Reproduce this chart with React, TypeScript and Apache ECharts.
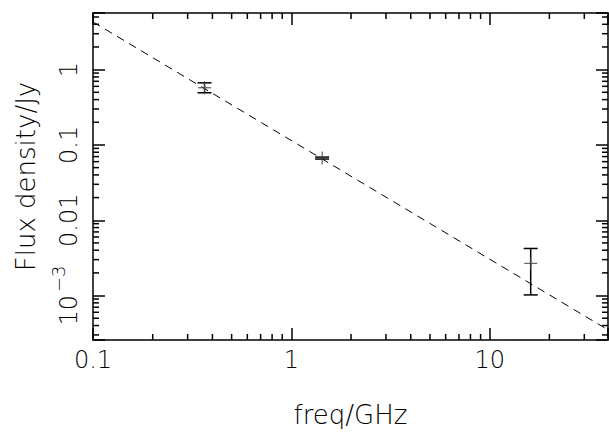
import React, { useEffect, useRef } from "react";
import * as echarts from "echarts";

// Measured points (frequency in GHz, flux density in Jy)
const freqGHz = [0.365, 1.43, 16.1];
const fluxJy = [0.574, 0.067, 0.00268];
const fluxLowJy = [0.493, 0.065, 0.00102];
const fluxHighJy = [0.668, 0.069, 0.00422];

// Power-law fit (dashed line)
const fitFreqGHz = [0.1, 39.5];
const fitFluxJy = [4.3, 3.5e-4];

// Axes
const xMin = 0.1;
const xMax = 39.5;
const yMin = 2.57e-4;
const yMax = 5.65;
const xMajorTicks = [0.1, 1, 10];
const xTickLabels = ["0.1", "1", "10"];
const yMajorTicks = [0.001, 0.01, 0.1, 1];
const yTickLabels = ["{e|10}{s|\u22123}", "0.01", "0.1", "1"];
const xMinorTicks = [0.2, 0.3, 0.4, 0.5, 0.6, 0.7, 0.8, 0.9, 2, 3, 4, 5, 6, 7, 8, 9, 20, 30];
const yMinorTicks = [
  3e-4, 4e-4, 5e-4, 6e-4, 7e-4, 8e-4, 9e-4,
  0.002, 0.003, 0.004, 0.005, 0.006, 0.007, 0.008, 0.009,
  0.02, 0.03, 0.04, 0.05, 0.06, 0.07, 0.08, 0.09,
  0.2, 0.3, 0.4, 0.5, 0.6, 0.7, 0.8, 0.9,
  2, 3, 4, 5,
];

const FONT = "DejaVu Sans";
const WEIGHT = 200;

function labelFor(v: number, ticks: number[], labels: string[]): string {
  for (let i = 0; i < ticks.length; i++) {
    if (Math.abs(Math.log10(v) - Math.log10(ticks[i])) < 1e-4) return labels[i];
  }
  return "";
}

export default function App() {
  const ref = useRef<HTMLDivElement>(null);

  useEffect(() => {
    if (!ref.current) return;
    const chart = echarts.init(ref.current, undefined, { renderer: "svg" });

    const lineStyle = { color: "#000", width: 1.5 };
    const baseAxis = {
      type: "log" as const,
      logBase: 10,
      axisLine: { show: true, lineStyle },
      axisTick: { show: true, inside: true, length: 12, lineStyle },
      splitLine: { show: false },
    };

    const option: any = {
      animation: false,
      backgroundColor: "#fff",
      textStyle: { fontFamily: FONT, color: "#000", fontWeight: WEIGHT },
      grid: { left: 93, right: 0, top: 13, bottom: 91, containLabel: false },
      xAxis: [
        {
          ...baseAxis,
          position: "bottom",
          min: xMin,
          max: xMax,
          name: "freq/GHz",
          nameLocation: "middle",
          nameGap: 62,
          nameMoveOverlap: false,
          nameTextStyle: { fontFamily: FONT, fontWeight: WEIGHT, fontSize: 26, color: "#000" },
          axisLabel: {
            show: true,
            interval: 0,
            margin: 8,
            fontFamily: FONT,
            fontWeight: WEIGHT,
            fontSize: 24,
            color: "#000",
            formatter: (v: number) => labelFor(v, xMajorTicks, xTickLabels),
          },
        },
        {
          ...baseAxis,
          position: "top",
          min: xMin,
          max: xMax,
          axisLabel: { show: false },
        },
      ],
      yAxis: [
        {
          ...baseAxis,
          position: "left",
          min: yMin,
          max: yMax,
          name: "Flux density/Jy",
          nameLocation: "middle",
          nameRotate: 90,
          nameGap: 54,
          nameMoveOverlap: false,
          nameTextStyle: { fontFamily: FONT, fontWeight: WEIGHT, fontSize: 26, color: "#000" },
          axisLabel: {
            show: true,
            interval: 0,
            rotate: 90,
            margin: 12,
            fontFamily: FONT,
            fontWeight: WEIGHT,
            fontSize: 24,
            color: "#000",
            formatter: (v: number) => labelFor(v, yMajorTicks, yTickLabels),
            rich: {
              e: { fontFamily: FONT, fontWeight: WEIGHT, fontSize: 24, color: "#000", verticalAlign: "bottom" },
              s: {
                fontFamily: FONT,
                fontWeight: WEIGHT,
                fontSize: 18,
                color: "#000",
                verticalAlign: "bottom",
                padding: [0, 0, 14, 3],
              },
            },
          },
        },
        {
          ...baseAxis,
          position: "right",
          min: yMin,
          max: yMax,
          axisLabel: { show: false },
        },
      ],
      series: [
        {
          type: "line",
          xAxisIndex: 0,
          yAxisIndex: 0,
          data: fitFreqGHz.map((f, i) => [f, fitFluxJy[i]]),
          symbol: "none",
          showSymbol: false,
          lineStyle: { color: "#000", width: 1, type: [8, 6] },
          z: 2,
          silent: true,
        },
        {
          type: "custom",
          xAxisIndex: 0,
          yAxisIndex: 0,
          encode: { x: 0, y: 1 },
          data: freqGHz.map((f, i) => [f, fluxJy[i], fluxLowJy[i], fluxHighJy[i]]),
          z: 5,
          silent: true,
          renderItem: (params: any, api: any) => {
            const x = api.value(0);
            const pC = api.coord([x, api.value(1)]);
            const pLo = api.coord([x, api.value(2)]);
            const pHi = api.coord([x, api.value(3)]);
            const hw = 7;
            const st = { stroke: "#000", lineWidth: 1.5 };
            const mk = { stroke: "#444", lineWidth: 1 };
            return {
              type: "group",
              children: [
                { type: "line", shape: { x1: pLo[0], y1: pLo[1], x2: pHi[0], y2: pHi[1] }, style: st },
                { type: "line", shape: { x1: pLo[0] - hw, y1: pLo[1], x2: pLo[0] + hw, y2: pLo[1] }, style: st },
                { type: "line", shape: { x1: pHi[0] - hw, y1: pHi[1], x2: pHi[0] + hw, y2: pHi[1] }, style: st },
                { type: "line", shape: { x1: pC[0] - 6.5, y1: pC[1], x2: pC[0] + 6.5, y2: pC[1] }, style: mk },
                { type: "line", shape: { x1: pC[0], y1: pC[1] - 6.5, x2: pC[0], y2: pC[1] + 6.5 }, style: mk },
              ],
            };
          },
        },
        {
          type: "custom",
          xAxisIndex: 0,
          yAxisIndex: 0,
          encode: { x: 0, y: 1 },
          data: xMinorTicks.map((v) => [v, 1]),
          silent: true,
          z: 6,
          renderItem: (params: any, api: any) => {
            const cs = params.coordSys;
            const x = api.coord([api.value(0), 1])[0];
            const st = { stroke: "#000", lineWidth: 1.5 };
            return {
              type: "group",
              children: [
                { type: "line", shape: { x1: x, y1: cs.y + cs.height, x2: x, y2: cs.y + cs.height - 6 }, style: st },
                { type: "line", shape: { x1: x, y1: cs.y, x2: x, y2: cs.y + 6 }, style: st },
              ],
            };
          },
        },
        {
          type: "custom",
          xAxisIndex: 0,
          yAxisIndex: 0,
          encode: { x: 0, y: 1 },
          data: yMinorTicks.map((v) => [1, v]),
          silent: true,
          z: 6,
          renderItem: (params: any, api: any) => {
            const cs = params.coordSys;
            const y = api.coord([1, api.value(1)])[1];
            const st = { stroke: "#000", lineWidth: 1.5 };
            return {
              type: "group",
              children: [
                { type: "line", shape: { x1: cs.x, y1: y, x2: cs.x + 6, y2: y }, style: st },
                { type: "line", shape: { x1: cs.x + cs.width, y1: y, x2: cs.x + cs.width - 6, y2: y }, style: st },
              ],
            };
          },
        },
      ],
    };

    chart.setOption(option);
    return () => {
      chart.dispose();
    };
  }, []);

  return (
    <div
      style={{
        position: "fixed",
        left: 0,
        top: 0,
        width: 609,
        height: 433,
        overflow: "hidden",
        background: "#fff",
      }}
    >
      <div ref={ref} style={{ width: 611, height: 433 }} />
    </div>
  );
}
